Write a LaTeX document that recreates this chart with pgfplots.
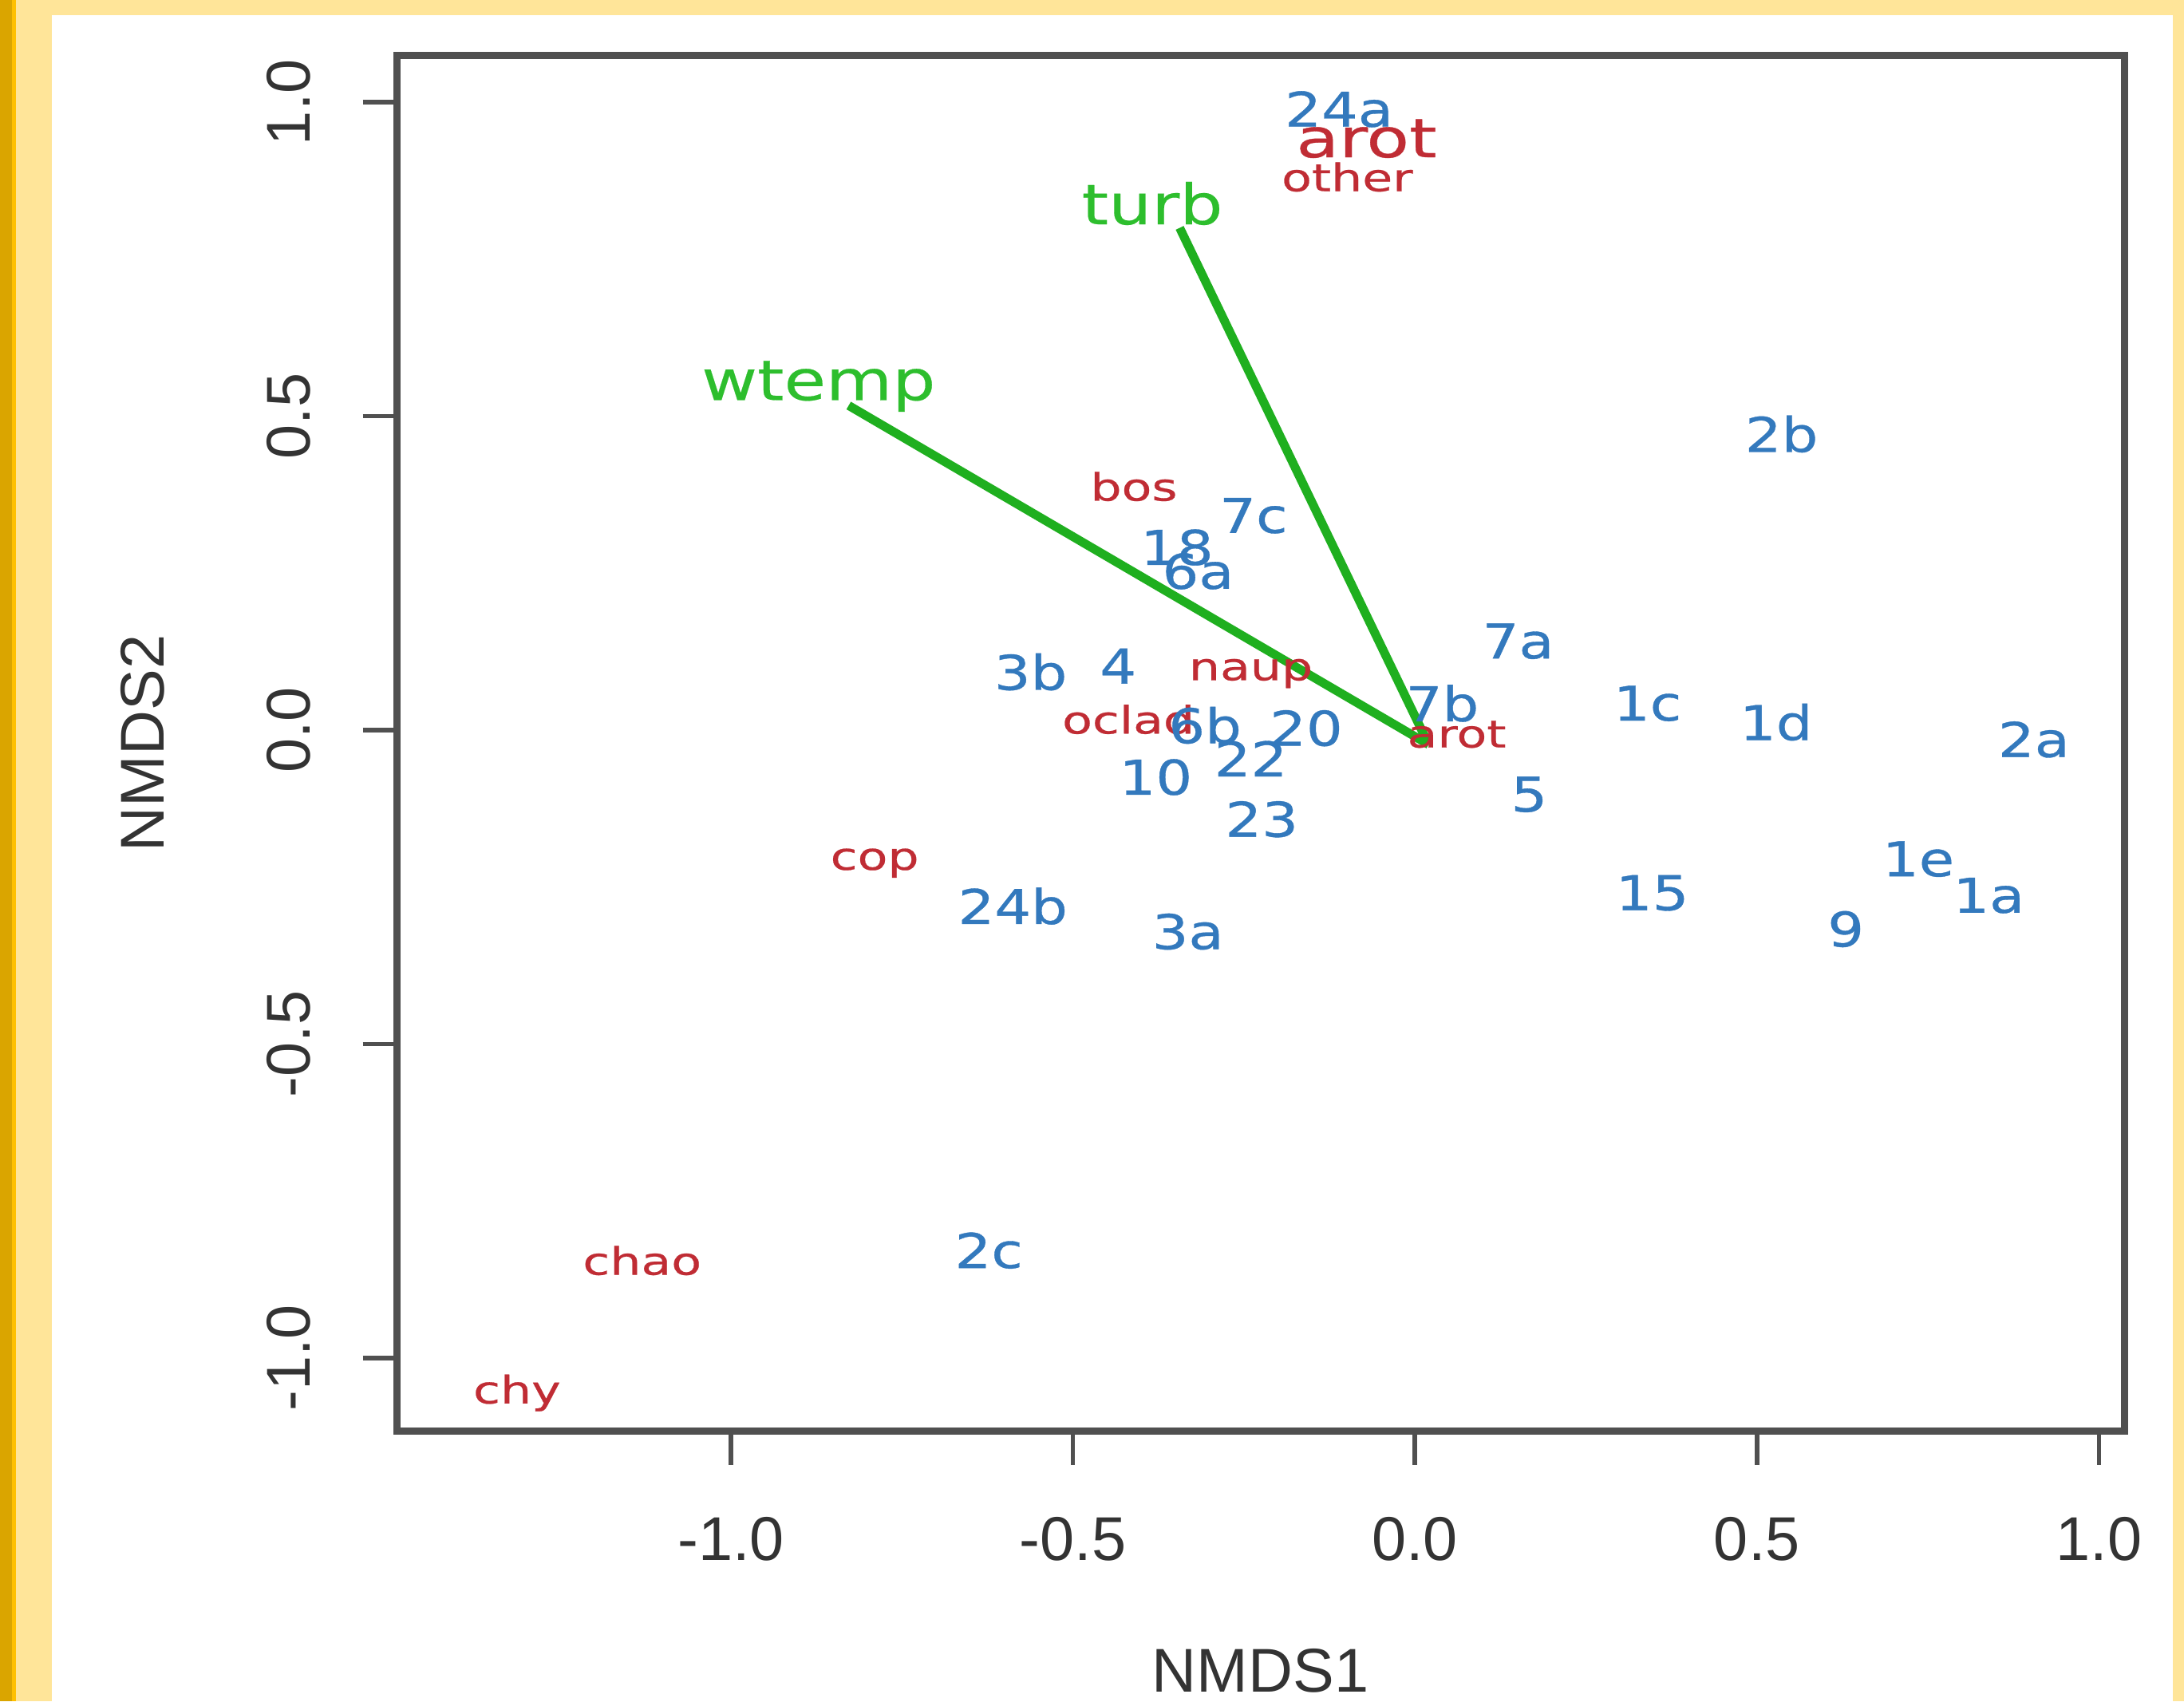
\documentclass[border=0pt]{standalone}
\usepackage{pgfplots}
\pgfplotsset{compat=1.18}
\usepackage{fontspec}
\setmainfont{Liberation Sans}
\newfontfamily\sitefont[FakeStretch=1.2, FakeBold=0.6]{DejaVu Sans}
\newfontfamily\sppfont[FakeStretch=1.3, FakeBold=0.5]{DejaVu Sans}
\newfontfamily\envfont[FakeStretch=1.22, FakeBold=0.3]{DejaVu Sans}
\definecolor{bgyellow}{RGB}{255,229,153}
\definecolor{darkyel}{RGB}{218,165,0}
\definecolor{brightyel}{RGB}{255,192,0}
\definecolor{siteblue}{RGB}{51,121,189}
\definecolor{sppred}{RGB}{192,44,52}
\definecolor{envgreen}{RGB}{45,190,45}
\definecolor{envline}{RGB}{31,175,31}
\definecolor{axgray}{RGB}{80,80,80}

\pgfplotstableread{
x y label
-0.111 0.989 24a
0.536 0.471 2b
-0.236 0.342 7c
-0.317 0.253 6a
-0.348 0.291 18
0.151 0.142 7a
-0.562 0.092 3b
-0.434 0.102 4
0.340 0.043 1c
0.528 0.012 1d
0.905 -0.015 2a
0.040 0.042 7b
-0.307 0.007 6b
-0.159 0.003 20
-0.240 -0.046 22
-0.379 -0.075 10
0.167 -0.102 5
-0.224 -0.142 23
0.736 -0.205 1e
0.347 -0.259 15
0.839 -0.263 1a
-0.588 -0.281 24b
0.630 -0.317 9
-0.332 -0.321 3a
-0.623 -0.829 2c
}\sites

\pgfplotstableread{
x y label
-0.099 0.875 other
-0.411 0.382 bos
-0.240 0.096 naup
-0.419 0.011 oclad
0.061 -0.011 arot
-0.790 -0.206 cop
-1.130 -0.851 chao
-1.313 -1.056 chy
}\species

\pgfplotstableread{
x y label
-0.071 0.936 arot
}\specbig

\pgfplotstableread{
x y label
-0.872 0.550 wtemp
-0.384 0.830 turb
}\envlab

\begin{document}
\begin{tikzpicture}
\fill[bgyellow] (0pt,0pt) rectangle (547.4pt,426.4pt);
\fill[darkyel] (0pt,0pt) rectangle (3pt,426.4pt);
\fill[brightyel] (3pt,0pt) rectangle (4pt,426.4pt);
\fill[white] (13pt,0pt) rectangle (544.6pt,422.6pt);
\begin{axis}[
  at={(99.4pt,67.8pt)}, anchor=south west,
  width=433pt, height=344.6pt, scale only axis,
  xmin=-1.489, xmax=1.037, ymin=-1.116, ymax=1.074,
  clip=false,
  axis line style={draw=axgray, line width=1.8pt},
  tick align=outside, tick pos=left,
  major tick length=8.5pt,
  major tick style={draw=axgray, line width=1.1pt},
  xtick={-1,-0.5,0,0.5,1}, xticklabels={-1.0,-0.5,0.0,0.5,1.0},
  ytick={-1,-0.5,0,0.5,1}, yticklabels={-1.0,-0.5,0.0,0.5,1.0},
  tick label style={font=\fontsize{15.5}{18}\selectfont, text=black!80},
  xticklabel style={anchor=north, inner sep=0pt, yshift=-12.9pt},
  yticklabel style={xshift=-12.9pt, rotate=90, anchor=south, inner sep=0pt},
  every axis x label/.style={at={(axis description cs:0.5,0)}, yshift=-54.5pt, anchor=north, inner sep=0pt, font=\fontsize{15.5}{18}\selectfont, text=black!80},
  every axis y label/.style={at={(axis description cs:0,0.5)}, xshift=-58pt, rotate=90, anchor=south, inner sep=0pt, font=\fontsize{15.5}{18}\selectfont, text=black!80},
  xlabel={NMDS1}, ylabel={NMDS2},
]
% species (small)
\addplot[only marks, mark=none, nodes near coords, nodes near coords align={center},
  point meta=explicit symbolic,
  every node near coord/.append style={anchor=center, inner sep=0pt, text=sppred, font=\sppfont\fontsize{9.5}{11}\selectfont, text height=5.2pt, text depth=0pt}]
  table[x=x, y=y, meta=label]{\species};
% species (large)
\addplot[only marks, mark=none, nodes near coords, nodes near coords align={center},
  point meta=explicit symbolic,
  every node near coord/.append style={anchor=center, inner sep=0pt, text=sppred, font=\sppfont\fontsize{13.5}{15}\selectfont, text height=7.4pt, text depth=0pt}]
  table[x=x, y=y, meta=label]{\specbig};
% sites
\addplot[only marks, mark=none, nodes near coords, nodes near coords align={center},
  point meta=explicit symbolic,
  every node near coord/.append style={anchor=center, inner sep=0pt, text=siteblue, font=\sitefont\fontsize{12}{14}\selectfont, text height=8.75pt, text depth=0pt}]
  table[x=x, y=y, meta=label]{\sites};
% environmental vectors
\addplot[envline, line width=2.2pt, mark=none] coordinates {(0.020,-0.023) (-0.828,0.517)};
\addplot[envline, line width=2.2pt, mark=none] coordinates {(0.020,-0.023) (-0.344,0.800)};
\addplot[only marks, mark=none, nodes near coords, nodes near coords align={center},
  point meta=explicit symbolic,
  every node near coord/.append style={anchor=center, inner sep=0pt, text=envgreen, font=\envfont\fontsize{14}{16}\selectfont, text height=7.66pt, text depth=0pt}]
  table[x=x, y=y, meta=label]{\envlab};
\end{axis}
\end{tikzpicture}
\end{document}
